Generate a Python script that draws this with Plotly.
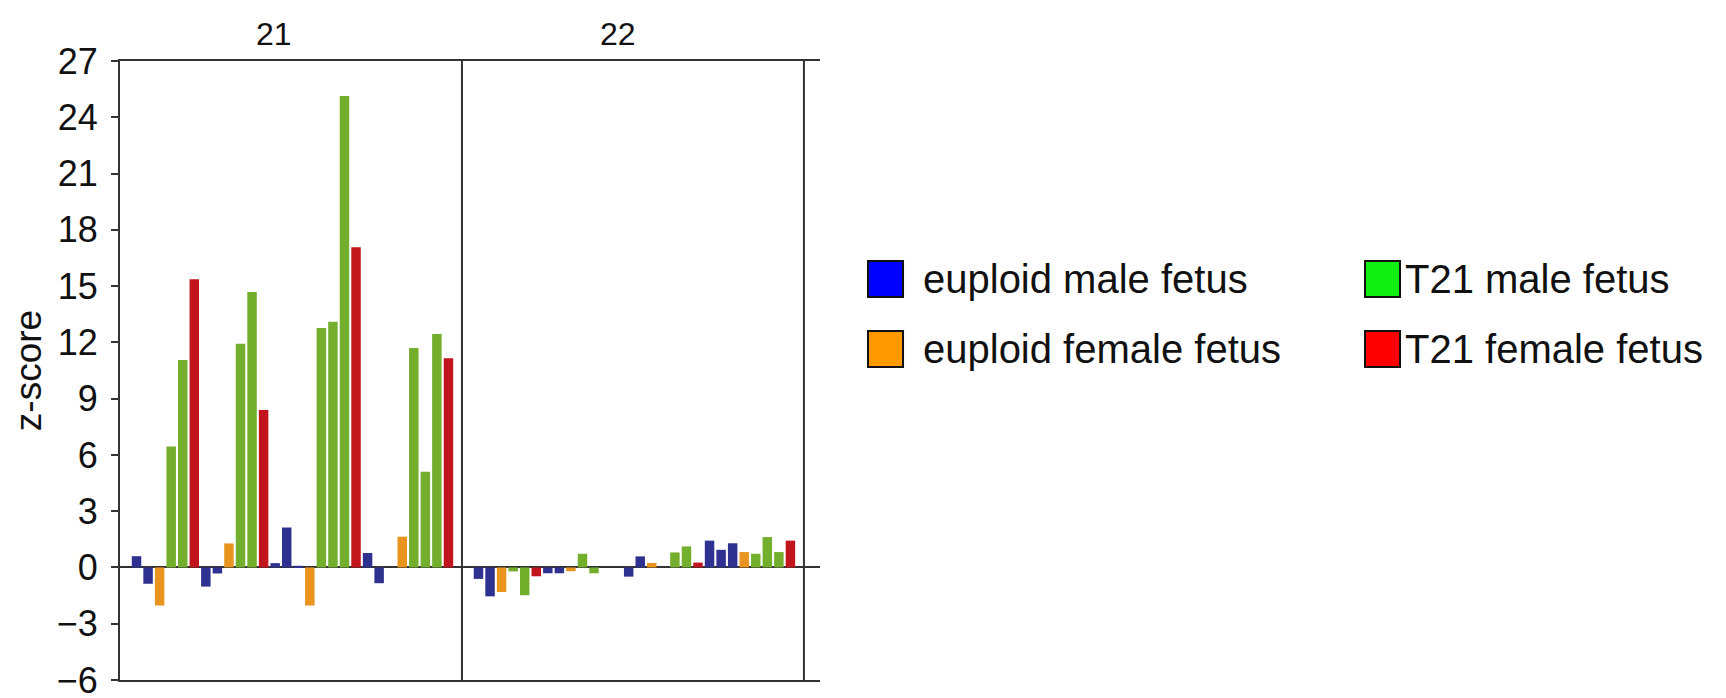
import plotly.graph_objects as go

# ---- data ----
panels = ["21", "22"]
sample_types = ["EM", "EM", "EF", "TM", "TM", "TF",
                "EM", "EM", "EF", "TM", "TM", "TF",
                "EM", "EM", "EM", "EF", "TM", "TM", "TM", "TF",
                "EM", "EM", "EM", "EF", "TM", "TM", "TM", "TF"]
chr21_z = [0.6, -0.87, -2.03, 6.45, 11.06, 15.36,
           -1.02, -0.32, 1.28, 11.93, 14.68, 8.4,
           0.23, 2.13, 0.09, -2.03, 12.77, 13.1, 25.14, 17.07,
           0.77, -0.84, 0.0, 1.64, 11.7, 5.1, 12.45, 11.15]
chr22_z = [-0.61, -1.54, -1.31, -0.21, -1.48, -0.47,
           -0.31, -0.31, -0.2, 0.73, -0.31, 0.0,
           0.0, -0.49, 0.59, 0.24, 0.0, 0.8, 1.12, 0.26,
           1.43, 0.94, 1.29, 0.82, 0.73, 1.62, 0.82, 1.43]
type_labels = {"EM": "euploid male fetus", "EF": "euploid female fetus",
               "TM": "T21 male fetus", "TF": "T21 female fetus"}
y_ticks = [-6, -3, 0, 3, 6, 9, 12, 15, 18, 21, 24, 27]

# ---- styles ----
bar_colors = {"EM": "#2f3190", "EF": "#e8941f", "TM": "#74ae2d", "TF": "#c1141d"}
legend_colors = {"EM": "#0000ff", "EF": "#ff9900", "TM": "#11ee11", "TF": "#ff0000"}
FONT = "Liberation Sans, Arial, Helvetica, sans-serif"
AX = "#333333"

pad_left = 1.43          # space before first bar in a panel (slot units)
panel_w = 29.6           # width of a panel in slot units
x_min = -pad_left
x_max = x_min + 2 * panel_w + 1.39
panel_offsets = [0.0, panel_w]

TOP, BOTTOM = 53, 672
PH = BOTTOM - TOP

fig = go.Figure()
for t in ["EM", "EF", "TM", "TF"]:
    xs, ys = [], []
    for p, vals in zip(panel_offsets, [chr21_z, chr22_z]):
        for i, (st, v) in enumerate(zip(sample_types, vals)):
            if st == t:
                xs.append(p + i)
                ys.append(v)
    fig.add_trace(go.Bar(x=xs, y=ys, name=type_labels[t], width=0.82,
                         marker=dict(color=bar_colors[t], line=dict(width=0)),
                         showlegend=False))

# panel borders
for k in (1, 2):
    xb = x_min + k * panel_w
    fig.add_shape(type="line", xref="x", yref="y", x0=xb, x1=xb, y0=-6.15, y1=27,
                  line=dict(color=AX, width=2))

# panel titles
for k, name in enumerate(panels):
    frac = 0.449 if k == 0 else 0.455
    fig.add_annotation(x=x_min + k * panel_w + frac * panel_w,
                       y=(BOTTOM - 26) / PH,
                       xref="x", yref="paper", text=name, showarrow=False,
                       font=dict(size=32, color="#111111", family=FONT),
                       xanchor="center", yanchor="middle")

# legend (2 x 2 grid)
legend_layout = [("EM", 0, 0), ("TM", 1, 0), ("EF", 0, 1), ("TF", 1, 1)]
col_box_x = [1.0686, 1.7786]
col_text_x = [1.1446, 1.8327]
row_py = [271, 341]
bw = 0.05
bh = 18 / PH
for t, c, r in legend_layout:
    yc = (BOTTOM - row_py[r]) / PH
    fig.add_shape(type="rect", xref="paper", yref="paper",
                  x0=col_box_x[c], x1=col_box_x[c] + bw,
                  y0=yc - bh, y1=yc + bh,
                  fillcolor=legend_colors[t], line=dict(color="#111111", width=2))
    fig.add_annotation(x=col_text_x[c], y=yc, xref="paper", yref="paper",
                       text=type_labels[t], showarrow=False, xanchor="left",
                       yanchor="middle",
                       font=dict(size=40, color="#111111", family=FONT))

fig.update_layout(
    width=1726, height=698,
    margin=dict(l=112, r=914, t=TOP, b=698 - BOTTOM),
    paper_bgcolor="white", plot_bgcolor="white",
    font=dict(family=FONT, color="#111111"),
    barmode="overlay",
    xaxis=dict(range=[x_min, x_max], showline=True, mirror=True, linecolor=AX,
               linewidth=2, showticklabels=False, ticks="", showgrid=False,
               zeroline=False, fixedrange=True),
    yaxis=dict(range=[-6, 27], tickvals=y_ticks, showline=True, linecolor=AX,
               linewidth=2, ticks="outside", ticklen=7, tickwidth=2, tickcolor=AX,
               showgrid=False, zeroline=True, zerolinecolor=AX, zerolinewidth=2,
               tickfont=dict(size=36, color="#111111", family=FONT),
               ticklabelstandoff=6, ticklabeloverflow="allow",
               title=dict(text="z-score", font=dict(size=37, color="#111111", family=FONT),
                          standoff=10),
               automargin=False),
    showlegend=False,
)

fig.write_html("out.html")
